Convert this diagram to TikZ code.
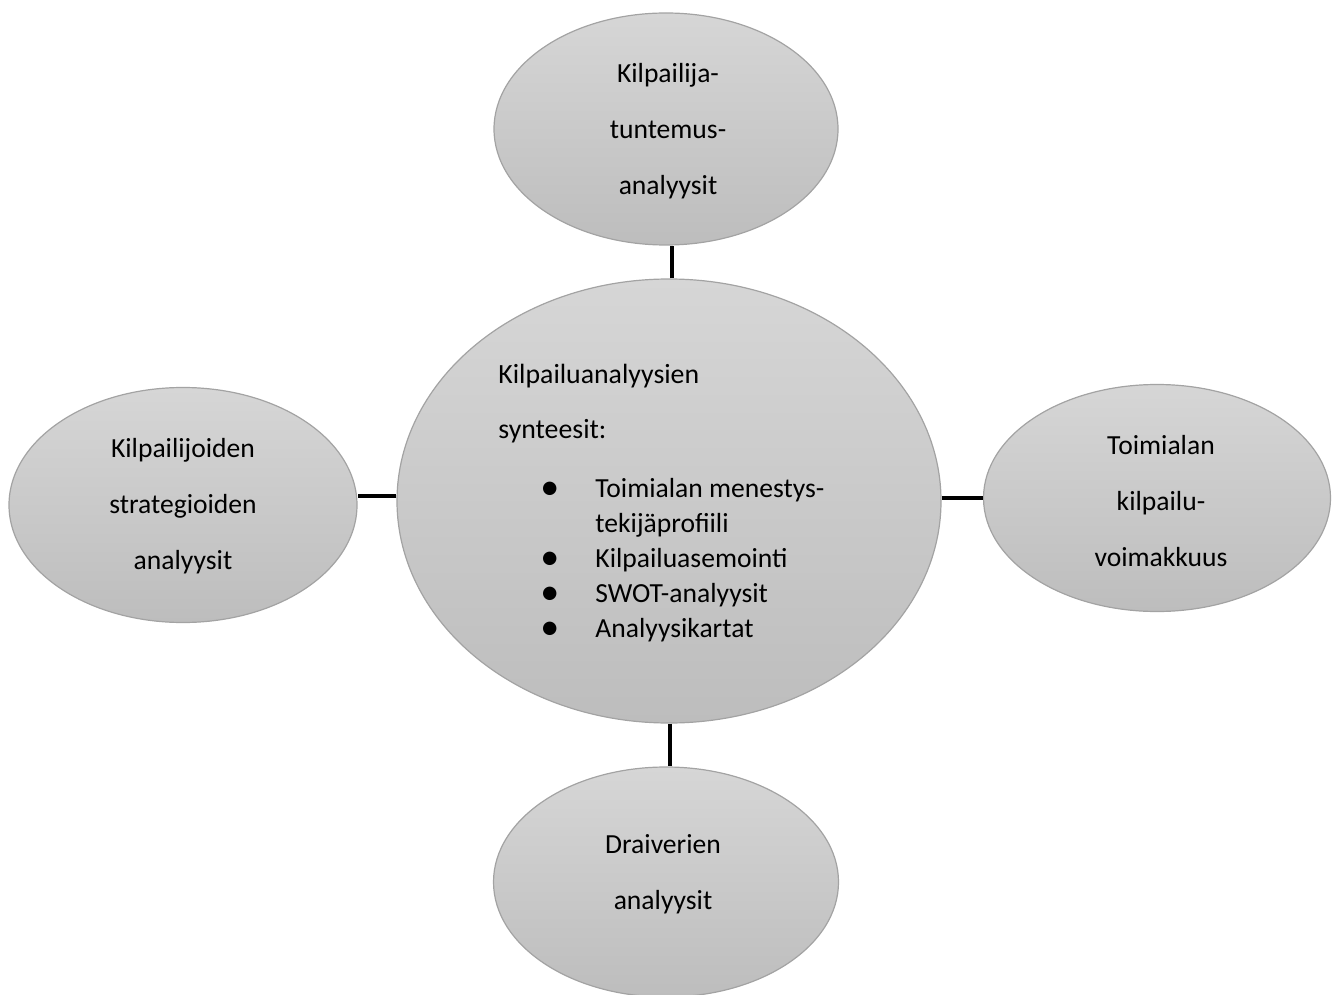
\documentclass[tikz,border=0pt]{standalone}
\usepackage{fontspec}
\setmainfont{Carlito}
\usetikzlibrary{shapes.geometric,calc}
\definecolor{ellborder}{HTML}{A3A3A3}
\definecolor{elltop}{HTML}{D6D6D6}
\definecolor{ellbot}{HTML}{BDBDBD}
\newcommand\mybullet{\makebox[27.5pt][l]{\raisebox{-1pt}{\fontsize{19}{19}\selectfont\textbullet}}}
\begin{document}
\begin{tikzpicture}[x=0.5pt,y=-0.5pt,
  bubble/.style={ellipse, draw=ellborder, line width=0.6pt, top color=elltop, bottom color=ellbot, inner sep=0pt},
  link/.style={line width=2pt, draw=black},
  txt/.style={font=\fontsize{13.8}{28}\selectfont, align=center, inner sep=0pt}]
\useasboundingbox (0,0) rectangle (1336,994);
\node[bubble, minimum width=172pt, minimum height=116pt] (top) at (666,129) {};
\node[bubble, minimum width=272pt, minimum height=222pt] (mid) at (669,501) {};
\node[bubble, minimum width=174pt, minimum height=117.5pt] (left) at (183,505) {};
\node[bubble, minimum width=173.5pt, minimum height=113.5pt] (right) at (1157,498) {};
\node[bubble, minimum width=172.5pt, minimum height=115pt] (bot) at (666,882) {};
\draw[link] ($(mid.north)+(3,0)$) -- ($(mid.north |- top.south)+(3,0)$);
\draw[link] ($(mid.south)+(1,0)$) -- ($(mid.south |- bot.north)+(1,0)$);
\draw[link] ($(mid.west)+(0,-5)$) -- ($(mid.west -| left.east)+(0,-5)$);
\draw[link] ($(mid.east)+(0,-3)$) -- ($(mid.east -| right.west)+(0,-3)$);
\node[txt] (ttop) at (668,131) {Kilpailija-\\tuntemus-\\analyysit};
\node[txt] (tleft) at (183,506) {Kilpailijoiden\\strategioiden\\analyysit};
\node[txt] (tright) at (1161,501) {Toimialan\\kilpailu-\\voimakkuus};
\node[txt] (tbot) at (663,874) {Draiverien\\analyysit};
\node[font=\fontsize{13.9}{27.5}\selectfont, align=left, anchor=base west, inner sep=0pt] (thead) at (498,438) {Kilpailuanalyysien\\synteesit:};
\node[font=\fontsize{13.8}{17.5}\selectfont, align=left, anchor=base west, inner sep=0pt] (tlist) at (540,637)
  {\mybullet Toimialan menestys-\\\hspace*{27.5pt}tekijäprofiili\\\mybullet Kilpailuasemointi\\\mybullet SWOT-analyysit\\\mybullet Analyysikartat};
\end{tikzpicture}
\end{document}
